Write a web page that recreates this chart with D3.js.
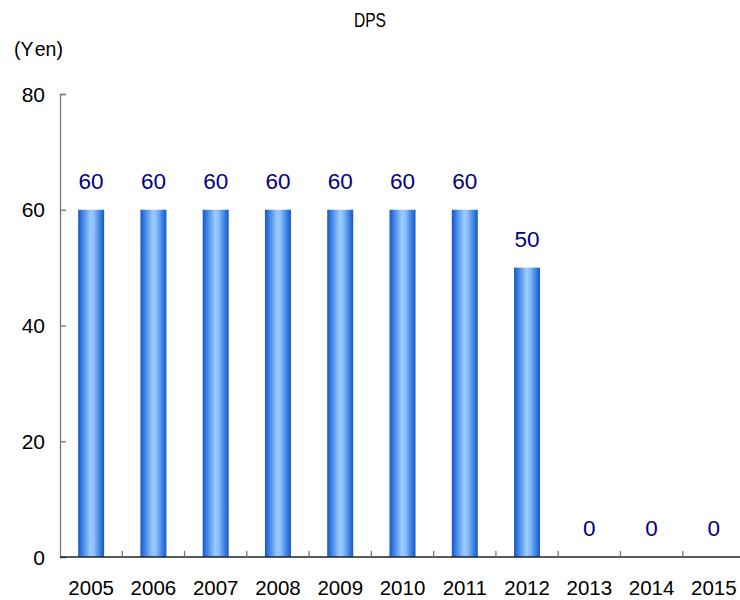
<!DOCTYPE html>
<html>
<head>
<meta charset="utf-8">
<script src="https://cdn.jsdelivr.net/npm/d3@7/dist/d3.min.js"></script>
<style>
  html, body { margin: 0; padding: 0; background: #fff; }
  svg { display: block; font-family: "Liberation Sans", Arial, sans-serif; }
</style>
</head>
<body>
<svg id="chart" width="740" height="600"></svg>
<script>
// Dividend per share by fiscal year
const years = ["2005", "2006", "2007", "2008", "2009", "2010", "2011", "2012", "2013", "2014", "2015"];
const dps = [60, 60, 60, 60, 60, 60, 60, 50, 0, 0, 0];
const yTicks = [0, 20, 40, 60, 80];

const svg = d3.select("#chart");
const plotLeft = 60, plotRight = 745, plotTop = 94, plotBottom = 557;

const x = d3.scaleBand().domain(years).range([plotLeft, plotRight]).paddingInner(0).paddingOuter(0);
const y = d3.scaleLinear().domain([0, 80]).range([plotBottom, plotTop]);

// Horizontal gradient: dark edges, light centre
const defs = svg.append("defs");
const grad = defs.append("linearGradient").attr("id", "barGrad")
  .attr("x1", "0%").attr("x2", "100%").attr("y1", "0%").attr("y2", "0%");
[["0%", "#1558c8"], ["15%", "#3a7ee0"], ["48%", "#9ccdff"], ["62%", "#88bdf8"], ["85%", "#3a7ee0"], ["100%", "#1558c8"]]
  .forEach(([o, c]) => grad.append("stop").attr("offset", o).attr("stop-color", c));

// Title and unit
svg.append("text").attr("x", 354).attr("y", 27)
  .attr("font-size", 20).attr("textLength", 32).attr("lengthAdjust", "spacingAndGlyphs")
  .attr("fill", "#000").text("DPS");
const unit = svg.append("text").attr("x", 14).attr("y", 56).attr("font-size", 19.5).attr("fill", "#000");
unit.append("tspan").text("(Y");
unit.append("tspan").attr("dx", 3).text("en)");

// Bars
const barW = 26;
svg.append("g").selectAll("rect").data(years).join("rect")
  .attr("x", (d) => x(d) + x.bandwidth() / 2 - barW / 2)
  .attr("y", (d, i) => y(dps[i]))
  .attr("width", barW)
  .attr("height", (d, i) => y(0) - y(dps[i]))
  .attr("fill", "url(#barGrad)");

// Value labels
svg.append("g").selectAll("text").data(years).join("text")
  .attr("x", (d) => x(d) + x.bandwidth() / 2)
  .attr("y", (d, i) => y(dps[i]) - 21)
  .attr("text-anchor", "middle")
  .attr("font-size", 22.5)
  .attr("fill", "#000080")
  .text((d, i) => dps[i]);

// Y axis (ticks point inward)
const yAxis = svg.append("g").attr("transform", `translate(${plotLeft},0)`)
  .call(d3.axisRight(y).tickValues(yTicks).tickSize(6).tickFormat(""));
yAxis.select(".domain").attr("stroke", "#777").attr("stroke-width", 1.3);
yAxis.selectAll(".tick line").attr("stroke", "#777").attr("stroke-width", 1.3);
svg.append("g").selectAll("text").data(yTicks).join("text")
  .attr("x", 45).attr("y", (d) => y(d)).attr("dy", "0.36em")
  .attr("text-anchor", "end").attr("font-size", 21).attr("fill", "#000")
  .text((d) => d);

// X axis (ticks point upward at category boundaries)
const xAxisG = svg.append("g");
xAxisG.append("line").attr("x1", plotLeft).attr("x2", 740).attr("y1", plotBottom).attr("y2", plotBottom)
  .attr("stroke", "#222").attr("stroke-width", 1.5);
xAxisG.selectAll("line.tk").data(years.slice(1)).join("line").attr("class", "tk")
  .attr("x1", (d) => x(d)).attr("x2", (d) => x(d))
  .attr("y1", plotBottom).attr("y2", plotBottom - 6)
  .attr("stroke", "#777").attr("stroke-width", 1.3);
xAxisG.selectAll("text").data(years).join("text")
  .attr("x", (d) => x(d) + x.bandwidth() / 2)
  .attr("y", 595)
  .attr("text-anchor", "middle").attr("font-size", 20.5).attr("fill", "#000")
  .text((d) => d);
</script>
</body>
</html>
